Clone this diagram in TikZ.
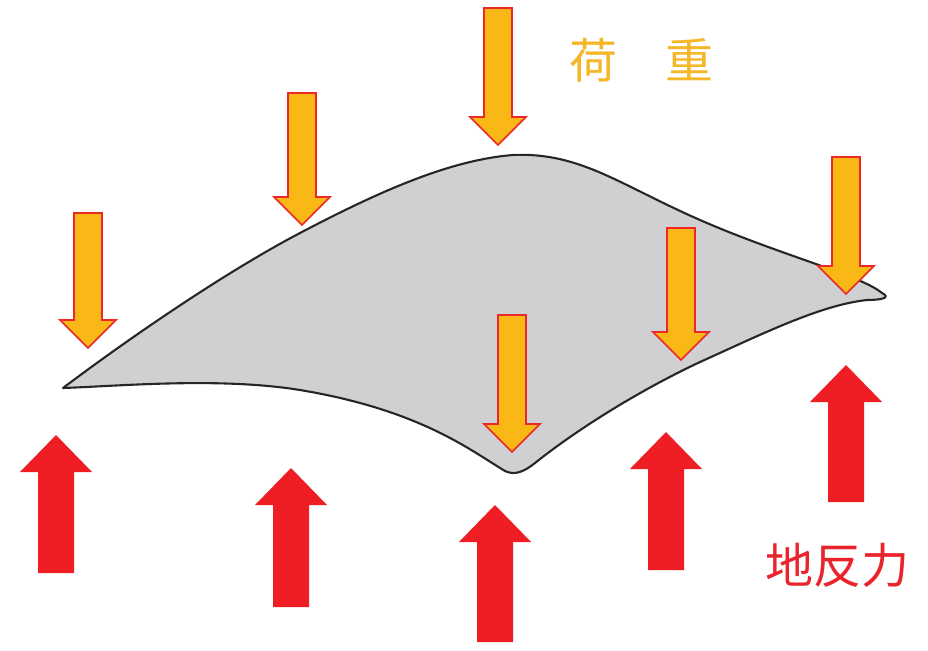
\documentclass[tikz,border=0pt]{standalone}
\usepackage{fontspec}
\newfontfamily\cjk{Noto Sans CJK JP}
\definecolor{loadfill}{RGB}{250,184,22}
\definecolor{loadedge}{RGB}{236,40,40}
\definecolor{reactfill}{RGB}{238,30,36}
\definecolor{slabfill}{RGB}{208,208,211}
\definecolor{loadtext}{RGB}{245,182,40}
\definecolor{reacttext}{RGB}{234,36,44}
\tikzset{
  loadstyle/.style={fill=loadfill,draw=loadedge,line width=1.6pt,line join=miter},
  reactstyle/.style={fill=reactfill,draw=none},
  slabstyle/.style={fill=slabfill,draw=black!85,line width=2.1pt,line join=round},
  loadarrow/.pic={\path[loadstyle] (-14,-#1) -- (14,-#1) -- (14,-28) -- (28,-28) -- (0,0) -- (-28,-28) -- (-14,-28) -- cycle;},
  reactarrow/.pic={\path[reactstyle] (0,0) -- (36,37) -- (18,37) -- (18,#1) -- (-18,#1) -- (-18,37) -- (-36,37) -- cycle;},
  labeltext/.style={font=\cjk\fontsize{48}{50}\selectfont,inner sep=0pt}
}
\begin{document}
\begin{tikzpicture}[x=1pt,y=-1pt]
\useasboundingbox (0,0) rectangle (928,650);
\fill[white] (0,0) rectangle (928,650);
% slab
\draw[slabstyle] (63,388) .. controls (120,345) and (220,275) .. (300,233)
  .. controls (380,191) and (450,160) .. (513,155)
  .. controls (580,152) and (620,185) .. (700,220)
  .. controls (780,255) and (860,275) .. (882,293)
  .. controls (892,298) and (880,300) .. (867,300)
  .. controls (820,305) and (760,335) .. (700,362)
  .. controls (630,395) and (570,435) .. (535,463)
  .. controls (525,471) and (515,476) .. (505,471)
  .. controls (470,450) and (420,410) .. (300,390)
  .. controls (220,377) and (120,386) .. (63,388) -- cycle;
% loads
\pic at (88,348) {loadarrow=135};
\pic at (302,225) {loadarrow=132};
\pic at (498,145) {loadarrow=137};
\pic at (512,452) {loadarrow=137};
\pic at (681,360) {loadarrow=132};
\pic at (846,294) {loadarrow=137};
% reactions
\pic at (56,435) {reactarrow=138};
\pic at (291,468) {reactarrow=139};
\pic at (495,505) {reactarrow=137};
\pic at (666,432) {reactarrow=138};
\pic at (846,365) {reactarrow=137};
% labels
\node[labeltext,text=loadtext] (load) at (641,60) {荷　重};
\node[labeltext,text=reacttext] (react) at (837,565) {地反力};
\end{tikzpicture}
\end{document}
